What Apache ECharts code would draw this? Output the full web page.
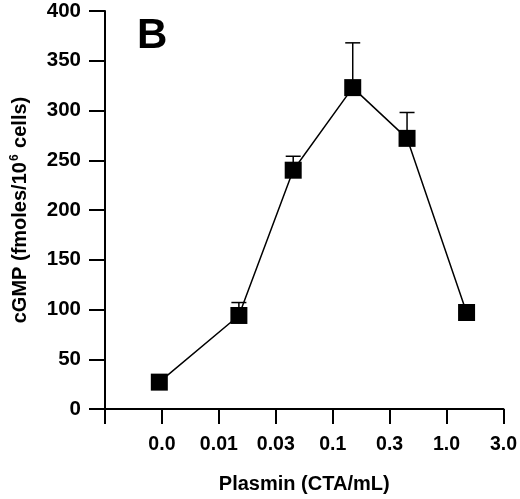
<!DOCTYPE html>
<html>
<head>
<meta charset="utf-8">
<script src="https://cdn.jsdelivr.net/npm/echarts@6/dist/echarts.min.js"></script>
<style>
html,body{margin:0;padding:0;background:#fff;}
#chart{width:520px;height:499px;}
</style>
</head>
<body>
<div id="chart"></div>
<script>
// Printed tick labels of the (log) plasmin axis and the concentrations they stand for
var xTickValues = [0.00316, 0.01, 0.03, 0.1, 0.3, 1, 3];
var xTickLabels = ['0.0', '0.01', '0.03', '0.1', '0.3', '1.0', '3.0'];
// Plasmin doses (CTA/mL); the control (0.0) is drawn near the "0.0" tick
var doses = [0.003, 0.015, 0.045, 0.15, 0.45, 1.5];
// cGMP (fmoles/10^6 cells)
var cgmp = [27, 94, 240, 323, 272, 97];
// upper error (SEM)
var errUp = [0, 13, 14, 45, 26, 0];

var lg = function (v) { return Math.log10(v); };
var tickLog = xTickValues.map(lg);
var lineData = doses.map(function (d, i) { return [lg(d), cgmp[i]]; });
var errData = doses.map(function (d, i) { return [lg(d), cgmp[i], cgmp[i] + errUp[i]]; });

var FONT = '"Liberation Sans", Arial, Helvetica, sans-serif';
var chart = echarts.init(document.getElementById('chart'), null, {renderer: 'canvas'});
chart.setOption({
  animation: false,
  backgroundColor: '#ffffff',
  grid: {left: 105, right: 15, top: 11, bottom: 90},
  xAxis: {
    type: 'value',
    min: -3,
    max: 0.5,
    interval: 0.5,
    name: 'Plasmin (CTA/mL)',
    nameLocation: 'middle',
    nameGap: 65,
    nameTextStyle: {fontFamily: FONT, fontWeight: 'bold', fontSize: 20, color: '#000'},
    axisLine: {onZero: false, lineStyle: {color: '#000', width: 2}},
    axisTick: {show: true, length: 15, lineStyle: {color: '#000', width: 2}},
    axisLabel: {
      margin: 26,
      showMinLabel: true,
      showMaxLabel: true,
      fontFamily: FONT, fontWeight: 'bold', fontSize: 19.5, color: '#000',
      formatter: function (v) {
        for (var i = 0; i < tickLog.length; i++) {
          if (Math.abs(tickLog[i] - v) < 0.05) return xTickLabels[i];
        }
        return '';
      }
    },
    splitLine: {show: false}
  },
  yAxis: {
    type: 'value',
    min: 0, max: 400, interval: 50,
    name: 'cGMP (fmoles/10{sup|6} cells)',
    nameLocation: 'middle',
    nameGap: 74,
    nameTextStyle: {
      fontFamily: FONT, fontWeight: 'bold', fontSize: 20, color: '#000',
      rich: {sup: {fontFamily: FONT, fontWeight: 'bold', fontSize: 12, color: '#000', verticalAlign: 'top', padding: [0, 1, 10, 1]}}
    },
    axisLine: {show: true, onZero: false, lineStyle: {color: '#000', width: 2}},
    axisTick: {show: true, length: 16, lineStyle: {color: '#000', width: 2}},
    axisLabel: {margin: 24, fontFamily: FONT, fontWeight: 'bold', fontSize: 20.5, color: '#000'},
    splitLine: {show: false}
  },
  graphic: [{
    type: 'text', left: 137, top: 15,
    style: {text: 'B', fontFamily: FONT, fontWeight: 'bold', fontSize: 42, fill: '#000'}
  }],
  series: [{
    type: 'custom',
    z: 1,
    data: errData,
    renderItem: function (params, api) {
      var x = api.value(0), y = api.value(1), top = api.value(2);
      if (top <= y) return null;
      var p0 = api.coord([x, y]);
      var p1 = api.coord([x, top]);
      var hw = 7.5;
      return {
        type: 'group',
        children: [
          {type: 'line', shape: {x1: p0[0], y1: p0[1], x2: p1[0], y2: p1[1]}, style: {stroke: '#000', lineWidth: 1.5}},
          {type: 'line', shape: {x1: p1[0] - hw, y1: p1[1], x2: p1[0] + hw, y2: p1[1]}, style: {stroke: '#000', lineWidth: 1.5}}
        ]
      };
    }
  }, {
    type: 'line',
    z: 2,
    data: lineData,
    symbol: 'rect',
    symbolSize: 17,
    itemStyle: {color: '#000'},
    lineStyle: {color: '#000', width: 1.5}
  }]
});
</script>
</body>
</html>
